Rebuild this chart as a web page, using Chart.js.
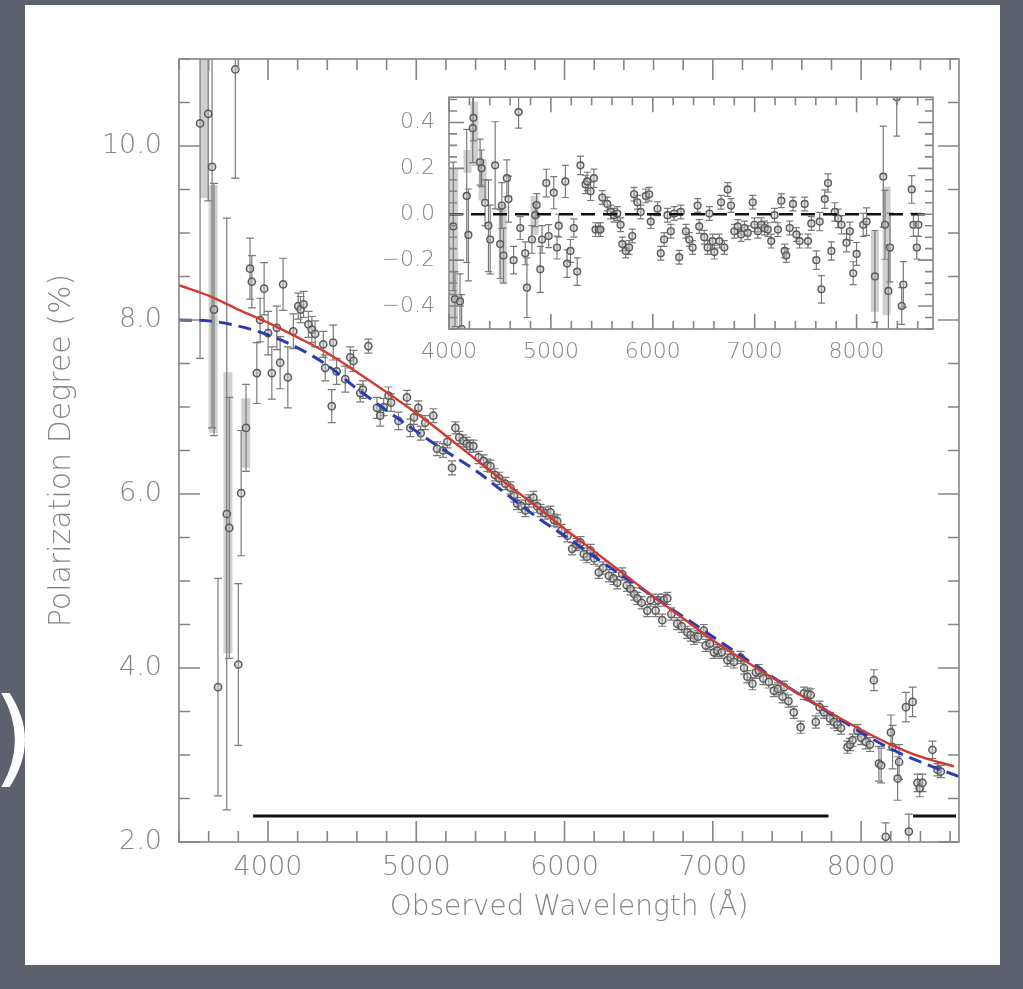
<!DOCTYPE html>
<html lang="en">
<head>
<meta charset="UTF-8">
<script src="https://cdn.jsdelivr.net/npm/chart.js"></script>
<style>
  body { margin: 0; background: #5c616d; width: 1023px; height: 989px; overflow: hidden; position: relative; }
  .panel { position: absolute; left: 25px; top: 5px; width: 975px; height: 960px; background: #fff; }
  .paren { position: absolute; left: -7px; top: 676px; font: 105px 'DejaVu Sans', sans-serif; color: #fff; line-height: normal; }
  #main { position: absolute; left: 0; top: 0; }
  #inset { position: absolute; left: 370px; top: 70px; }
</style>
<title>polarization degree</title>
</head>
<body>
<div class="paren">)</div>
<div class="panel"></div>
<canvas id="main" width="1023" height="989"></canvas>
<canvas id="inset" width="600" height="310"></canvas>
<script>
// observed polarization (main panel): wavelength [A], P [%], 1-sigma error
let wl = [3542, 3597, 3623, 3636, 3663, 3722, 3739, 3780, 3800, 3819, 3852, 3879, 3891, 3925, 3947, 3974,
  4001, 4026, 4060, 4082, 4102, 4134, 4171, 4204, 4220, 4240, 4273, 4296, 4318, 4373, 4386, 4430, 4440, 4463,
  4521, 4555, 4577, 4622, 4640, 4677, 4735, 4757, 4780, 4813, 4830, 4880, 4937, 4960, 4985,
  5014, 5030, 5060, 5115, 5140, 5180, 5210, 5241, 5264, 5290, 5318, 5340, 5360, 5385, 5420, 5453, 5480,
  5500, 5530, 5560, 5600, 5635, 5660, 5680, 5710, 5736, 5760, 5790, 5815, 5838, 5870, 5905, 5930, 5950, 5980,
  6020, 6051, 6080, 6108, 6130, 6150, 6175, 6200, 6231, 6260, 6299, 6330, 6355, 6389, 6420, 6445, 6470, 6490,
  6520, 6558, 6580, 6614, 6630, 6659, 6668, 6693, 6720, 6760, 6790, 6828, 6850, 6872, 6900, 6939, 6952, 6980,
  7007, 7030, 7060, 7098, 7120, 7142, 7188, 7210, 7233, 7267, 7290, 7310, 7340, 7377, 7411, 7440, 7470, 7480,
  7510, 7546, 7592, 7614, 7640, 7660, 7694, 7720, 7750, 7790, 7817, 7840, 7864, 7908, 7925, 7942, 7975,
  8000, 8032, 8060, 8086, 8120, 8135, 8166, 8201, 8212, 8246, 8256, 8302, 8322, 8347, 8380, 8395, 8414,
  8481, 8515, 8538];
let pol = [10.26, 10.37, 9.76, 8.12, 3.78, 5.77, 5.61, 10.88, 4.04, 6.01, 6.76, 8.59, 8.44, 7.39, 8.00, 8.36,
  7.85, 7.39, 7.91, 7.51, 8.41, 7.34, 7.87, 8.16, 8.12, 8.18, 7.95, 7.89, 7.84, 7.72, 7.45, 7.01, 7.74, 7.41,
  7.32, 7.57, 7.53, 7.16, 7.20, 7.70, 6.99, 6.90, 7.00, 7.13, 7.05, 6.84, 7.11, 6.76, 6.88,
  6.99, 6.70, 6.82, 6.90, 6.52, 6.50, 6.60, 6.30, 6.76, 6.65, 6.61, 6.58, 6.55, 6.55, 6.42, 6.38, 6.33,
  6.32, 6.22, 6.18, 6.12, 6.07, 5.98, 5.89, 5.86, 5.81, 5.92, 5.96, 5.86, 5.81, 5.78, 5.79, 5.70, 5.69, 5.58,
  5.52, 5.37, 5.42, 5.44, 5.31, 5.28, 5.35, 5.26, 5.10, 5.15, 5.06, 5.03, 4.98, 5.08, 4.95, 4.91, 4.85, 4.80,
  4.75, 4.66, 4.78, 4.66, 4.78, 4.55, 4.78, 4.80, 4.62, 4.51, 4.48, 4.41, 4.38, 4.34, 4.36, 4.43, 4.26, 4.28,
  4.18, 4.20, 4.18, 4.09, 4.12, 4.07, 4.12, 4.00, 3.90, 3.82, 3.95, 3.97, 3.88, 3.84, 3.74, 3.76, 3.67, 3.78,
  3.62, 3.49, 3.32, 3.71, 3.70, 3.69, 3.38, 3.55, 3.49, 3.42, 3.38, 3.35, 3.31, 3.09, 3.12, 3.17, 3.28,
  3.20, 3.15, 3.12, 3.86, 2.90, 2.88, 2.06, 3.26, 3.09, 2.73, 2.92, 3.55, 2.12, 3.61, 2.68, 2.62, 2.68,
  3.06, 2.83, 2.81];
let polErr = [2.7, 1.0, 3.0, 1.45, 1.25, 3.4, 1.5, 1.25, 0.93, 0.72, 0.5, 0.35, 0.3, 0.35, 0.25, 0.3,
  0.25, 0.3, 0.25, 0.3, 0.3, 0.35, 0.2, 0.15, 0.15, 0.15, 0.15, 0.15, 0.15, 0.15, 0.15, 0.19, 0.2, 0.15,
  0.15, 0.12, 0.12, 0.1, 0.1, 0.08, 0.12, 0.12, 0.1, 0.1, 0.1, 0.1, 0.08, 0.1, 0.08,
  0.08, 0.08, 0.08, 0.08, 0.08, 0.08, 0.07, 0.08, 0.07, 0.07, 0.07, 0.07, 0.07, 0.07, 0.07, 0.07, 0.07,
  0.07, 0.07, 0.07, 0.07, 0.07, 0.07, 0.07, 0.07, 0.07, 0.07, 0.07, 0.07, 0.07, 0.07, 0.07, 0.07, 0.07, 0.07,
  0.07, 0.07, 0.07, 0.07, 0.07, 0.07, 0.07, 0.07, 0.07, 0.07, 0.07, 0.07, 0.07, 0.07, 0.07, 0.07, 0.07, 0.07,
  0.07, 0.07, 0.07, 0.07, 0.07, 0.07, 0.07, 0.07, 0.07, 0.07, 0.07, 0.07, 0.07, 0.07, 0.07, 0.07, 0.07, 0.07,
  0.07, 0.07, 0.07, 0.07, 0.07, 0.07, 0.07, 0.07, 0.07, 0.07, 0.07, 0.07, 0.07, 0.07, 0.07, 0.07, 0.07, 0.07,
  0.07, 0.07, 0.07, 0.07, 0.07, 0.07, 0.07, 0.07, 0.07, 0.07, 0.07, 0.07, 0.07, 0.07, 0.07, 0.07, 0.07,
  0.08, 0.08, 0.08, 0.12, 0.2, 0.2, 0.16, 0.2, 0.25, 0.25, 0.2, 0.17, 0.2, 0.17, 0.1, 0.1, 0.1,
  0.1, 0.07, 0.07];

// wide grey bars (systematic range) on the blue end
let sysWl = [3570, 3630, 3730, 3850];
let sysLo = [9.4, 6.7, 4.17, 6.3];
let sysHi = [11.3, 9.55, 7.4, 7.1];

// model curves read at fixed wavelengths
let modelWl = [3400, 3600, 3800, 4000, 4200, 4400, 4600, 4800, 5000, 5200, 5400, 5600, 5800, 6000, 6200,
  6400, 6600, 6800, 7000, 7200, 7400, 7600, 7800, 8000, 8200, 8400, 8626];
let redModel = [8.40, 8.28, 8.12, 7.97, 7.80, 7.62, 7.40, 7.17, 6.93, 6.67, 6.40, 6.13, 5.87, 5.60, 5.34,
  5.08, 4.82, 4.57, 4.32, 4.10, 3.89, 3.68, 3.48, 3.29, 3.12, 2.98, 2.87];
let blueWl = [3400, 3600, 3800, 4000, 4200, 4400, 4600, 4800, 5000, 5200, 5400, 5600, 5800, 6000, 6200,
  6400, 6600, 6800, 7000, 7200, 7400, 7600, 7800, 8000, 8200, 8400, 8680];
let blueModel = [8.00, 7.99, 7.93, 7.83, 7.68, 7.48, 7.21, 6.96, 6.72, 6.49, 6.27, 6.01, 5.75, 5.52, 5.28,
  5.05, 4.82, 4.59, 4.36, 4.13, 3.90, 3.68, 3.47, 3.26, 3.07, 2.92, 2.74];

// wavelength ranges used in the fit, drawn at P = 2.3
let fitRanges = [[3900, 7780], [8350, 8640]];
let fitLevel = 2.3;

let xTicks = [4000, 5000, 6000, 7000, 8000];
let yTicks = [2, 4, 6, 8, 10];

// residuals (inset)
let resWl = [4042, 4059, 4108, 4124, 4174, 4190, 4233, 4240, 4305, 4320, 4354, 4387, 4404, 4453, 4502, 4519,
  4535, 4568, 4584, 4634, 4683, 4699, 4748, 4765, 4814, 4847, 4860, 4896, 4913, 4955, 4978, 5028, 5060, 5077,
  5142, 5159, 5192, 5225, 5258, 5290, 5340, 5356, 5390, 5422, 5438, 5470, 5487, 5504, 5553, 5586, 5619, 5652,
  5684, 5701, 5734, 5767, 5799, 5816, 5849, 5881, 5931, 5964, 5980, 6046, 6078, 6111, 6144, 6177, 6210, 6259,
  6275, 6325, 6358, 6391, 6440, 6456, 6505, 6538, 6555, 6587, 6604, 6653, 6670, 6702, 6735, 6768, 6801, 6834,
  6867, 6900, 6932, 6981, 6998, 7031, 7064, 7097, 7129, 7162, 7195, 7228, 7261, 7294, 7310, 7343, 7376, 7409,
  7441, 7491, 7523, 7556, 7605, 7638, 7655, 7688, 7720, 7753, 7786, 7819, 7852, 7901, 7934, 7967, 8000, 8065,
  8098, 8180, 8262, 8279, 8312, 8328, 8394, 8443, 8459, 8541, 8558, 8591, 8607];
let res = [-0.053, -0.37, -0.38, -0.50, 0.08, -0.09, 0.375, 0.42, 0.227, 0.20, 0.05, -0.05, -0.11, 0.213, -0.13, 0.038,
  -0.18, 0.157, 0.066, -0.20, 0.445, -0.06, -0.17, -0.32, -0.11, -0.004, 0.04, -0.24, -0.11, 0.136, -0.095, 0.094, -0.145, -0.05,
  0.143, -0.215, -0.16, -0.06, -0.25, 0.213, 0.13, 0.143, 0.10, 0.157, -0.067, -0.067, -0.067, 0.073, 0.045, 0.01, -0.004, 0.003,
  -0.046, -0.13, -0.16, -0.145, -0.095, 0.087, 0.052, 0.01, 0.08, 0.087, -0.032, 0.024, -0.17, -0.11, -0.004, -0.074, 0.003, -0.187,
  0.01, -0.074, -0.11, -0.145, 0.038, -0.053, -0.10, -0.145, 0.003, -0.117, -0.165, -0.117, 0.052, -0.145, 0.108, 0.038, -0.074, -0.053,
  -0.088, -0.06, -0.081, 0.052, -0.046, -0.074, -0.046, -0.06, -0.067, -0.117, -0.004, -0.067, 0.059, -0.16, -0.18, -0.06, 0.045, -0.088,
  -0.117, 0.045, -0.117, -0.04, -0.20, -0.032, -0.327, 0.066, 0.136, -0.16, 0.01, -0.018, -0.046, -0.124, -0.074, -0.257, -0.173, -0.046,
  -0.032, -0.271, 0.164, -0.046, -0.334, -0.145, 0.51, -0.40, -0.306, 0.108, -0.046, -0.145, -0.046];
let resErr = [0.28, 0.12, 0.12, 0.15, 0.29, 0.2, 0.15, 0.1, 0.1, 0.08, 0.1, 0.2, 0.15, 0.19, 0.15, 0.1,
  0.12, 0.08, 0.1, 0.06, 0.07, 0.05, 0.05, 0.13, 0.06, 0.05, 0.05, 0.1, 0.06, 0.06, 0.05, 0.07, 0.05, 0.05,
  0.07, 0.06, 0.05, 0.04, 0.06, 0.04, 0.04, 0.04, 0.04, 0.04, 0.03, 0.03, 0.03, 0.03, 0.03, 0.03, 0.03, 0.03,
  0.03, 0.03, 0.03, 0.03, 0.03, 0.03, 0.03, 0.03, 0.03, 0.03, 0.03, 0.03, 0.03, 0.03, 0.03, 0.03, 0.03, 0.03,
  0.03, 0.03, 0.03, 0.03, 0.03, 0.03, 0.03, 0.03, 0.03, 0.03, 0.03, 0.03, 0.03, 0.03, 0.03, 0.03, 0.03, 0.03,
  0.03, 0.03, 0.03, 0.03, 0.03, 0.03, 0.03, 0.03, 0.03, 0.03, 0.03, 0.03, 0.03, 0.03, 0.03, 0.03, 0.03, 0.03,
  0.03, 0.03, 0.03, 0.03, 0.04, 0.04, 0.06, 0.04, 0.04, 0.04, 0.04, 0.04, 0.04, 0.04, 0.04, 0.05, 0.05, 0.05,
  0.06, 0.2, 0.22, 0.15, 0.2, 0.15, 0.17, 0.08, 0.1, 0.06, 0.05, 0.05, 0.05];
let resSysWl = [4050, 4182, 4248, 4330, 4527, 4840, 8180, 8295];
let resSysLo = [-0.55, 0.18, 0.21, 0.06, -0.30, -0.09, -0.425, -0.44];
let resSysHi = [0.20, 0.28, 0.49, 0.24, 0.045, 0.08, -0.075, 0.12];

let resXTicks = [4000, 5000, 6000, 7000, 8000];
let resYTicks = [-0.4, -0.2, 0, 0.2, 0.4];

let labelFont = "'DejaVu Sans', sans-serif";
let textGray = '#858585';

function pts(xs, ys) { return xs.map((v, i) => ({x: v, y: ys[i]})); }
function fixedTicks(vals) { return s => { s.ticks = vals.map(v => ({value: v})); }; }

// error bars and wide systematic bars, drawn under the symbols
const errorBars = {
  id: 'errorBars',
  beforeDatasetsDraw(chart, args, o) {
    const {ctx, chartArea: a, scales: {x, y}} = chart;
    ctx.save();
    ctx.beginPath();
    ctx.rect(a.left, a.top, a.width, a.height);
    ctx.clip();
    ctx.fillStyle = '#cfcfcf';
    (o.sysWl || []).forEach((w, i) => {
      let px = x.getPixelForValue(w);
      let top = y.getPixelForValue(o.sysHi[i]), bot = y.getPixelForValue(o.sysLo[i]);
      ctx.fillRect(px - o.sysWidth / 2, top, o.sysWidth, bot - top);
    });
    ctx.strokeStyle = '#7a7a7a';
    ctx.lineWidth = 1.2;
    chart.data.datasets.forEach(ds => {
      if (!ds.errors) return;
      ds.data.forEach((p, i) => {
        let e = ds.errors[i];
        let px = x.getPixelForValue(p.x);
        let y1 = y.getPixelForValue(p.y + e), y2 = y.getPixelForValue(p.y - e);
        ctx.beginPath();
        ctx.moveTo(px, y1); ctx.lineTo(px, y2);
        ctx.moveTo(px - o.cap, y1); ctx.lineTo(px + o.cap, y1);
        ctx.moveTo(px - o.cap, y2); ctx.lineTo(px + o.cap, y2);
        ctx.stroke();
      });
    });
    ctx.restore();
  }
};

// box frame with inward ticks on all four sides
const frameTicks = {
  id: 'frameTicks',
  afterDraw(chart, args, o) {
    const {ctx, chartArea: a, scales: {x, y}} = chart;
    ctx.save();
    ctx.strokeStyle = '#858585';
    ctx.lineWidth = 1.6;
    ctx.strokeRect(a.left, a.top, a.width, a.height);
    ctx.beginPath();
    let n = Math.ceil((x.min - o.xStart) / o.xMinor);
    for (let v = o.xStart + n * o.xMinor; v <= x.max; v += o.xMinor) {
      let px = x.getPixelForValue(v);
      let len = Math.abs(v / o.xMajor - Math.round(v / o.xMajor)) < 1e-6 ? o.major : o.minor;
      ctx.moveTo(px, a.bottom); ctx.lineTo(px, a.bottom - len);
      ctx.moveTo(px, a.top); ctx.lineTo(px, a.top + len);
    }
    let k = Math.ceil((y.min - o.yStart) / o.yMinor - 1e-6);
    for (let j = k; o.yStart + j * o.yMinor <= y.max + 1e-6; j++) {
      let v = o.yStart + j * o.yMinor;
      let py = y.getPixelForValue(v);
      let len = Math.abs(v / o.yMajor - Math.round(v / o.yMajor)) < 1e-6 ? o.major : o.minor;
      ctx.moveTo(a.left, py); ctx.lineTo(a.left + len, py);
      ctx.moveTo(a.right, py); ctx.lineTo(a.right - len, py);
    }
    ctx.stroke();
    ctx.restore();
  }
};

let mainDatasets = [
  { type: 'line', data: pts(modelWl, redModel), borderColor: '#d23a32', borderWidth: 2.4,
    pointRadius: 0, cubicInterpolationMode: 'monotone', order: 0 },
  { type: 'line', data: pts(blueWl, blueModel), borderColor: '#2c3cb0', borderWidth: 3,
    borderDash: [13, 7], pointRadius: 0, cubicInterpolationMode: 'monotone', order: 1 },
  { type: 'scatter', data: pts(wl, pol), errors: polErr, pointRadius: 3.6, pointBorderWidth: 1.5,
    pointBorderColor: '#5a5a5a', pointBackgroundColor: 'rgba(190,190,190,0.5)', order: 3 }
];
fitRanges.forEach(r => {
  mainDatasets.push({ type: 'line', data: [{x: r[0], y: fitLevel}, {x: r[1], y: fitLevel}],
    borderColor: '#111', borderWidth: 3, pointRadius: 0, order: 2 });
});

new Chart(document.getElementById('main'), {
  type: 'scatter',
  data: { datasets: mainDatasets },
  options: {
    responsive: false,
    animation: false,
    layout: { padding: { left: 30, right: 64, top: 59, bottom: 40 } },
    plugins: {
      legend: { display: false },
      tooltip: { enabled: false },
      errorBars: { sysWl: sysWl, sysLo: sysLo, sysHi: sysHi, sysWidth: 9, cap: 4 },
      frameTicks: { xStart: 3400, xMinor: 200, xMajor: 1000, yStart: 2, yMinor: 0.5, yMajor: 2, major: 21, minor: 11 }
    },
    scales: {
      x: {
        type: 'linear', min: 3400, max: 8660,
        grid: { display: false, drawTicks: false }, border: { display: false },
        afterBuildTicks: fixedTicks(xTicks),
        ticks: { padding: 10, color: textGray, font: { family: labelFont, size: 27, weight: 200 },
                 callback: v => String(v) },
        title: { display: true, text: 'Observed Wavelength (Å)', color: textGray,
                 font: { family: labelFont, size: 28, weight: 200 }, padding: { bottom: 24 } },
        afterFit: s => { s.height = 107; }
      },
      y: {
        min: 2, max: 11,
        grid: { display: false, drawTicks: false }, border: { display: false },
        afterBuildTicks: fixedTicks(yTicks),
        ticks: { padding: 17, color: textGray, font: { family: labelFont, size: 27, weight: 200 },
                 callback: v => v.toFixed(1) },
        title: { display: true, text: 'Polarization Degree (%)', color: textGray,
                 font: { family: labelFont, size: 30, weight: 200 }, padding: { top: 14 } },
        afterFit: s => { s.width = 149; }
      }
    }
  },
  plugins: [errorBars, frameTicks]
});

// inset: residuals from the fit
new Chart(document.getElementById('inset'), {
  type: 'scatter',
  data: {
    datasets: [
      { type: 'line', data: [{x: 4000, y: 0}, {x: 8750, y: 0}], borderColor: '#111', borderWidth: 2.4,
        borderDash: [14, 8], pointRadius: 0, order: 0 },
      { type: 'scatter', data: pts(resWl, res), errors: resErr, pointRadius: 3.4, pointBorderWidth: 1.4,
        pointBorderColor: '#5a5a5a', pointBackgroundColor: 'rgba(190,190,190,0.5)', order: 1 }
    ]
  },
  options: {
    responsive: false,
    animation: false,
    layout: { padding: { left: 0, right: 37, top: 19, bottom: 0 } },
    plugins: {
      legend: { display: false },
      tooltip: { enabled: false },
      errorBars: { sysWl: resSysWl, sysLo: resSysLo, sysHi: resSysHi, sysWidth: 8, cap: 3.5 },
      frameTicks: { xStart: 4000, xMinor: 200, xMajor: 1000, yStart: -0.5, yMinor: 0.05, yMajor: 0.2, major: 15, minor: 8 }
    },
    scales: {
      x: {
        type: 'linear', min: 4000, max: 8750,
        grid: { display: false, drawTicks: false }, border: { display: false },
        afterBuildTicks: fixedTicks(resXTicks),
        ticks: { padding: 10, color: textGray, font: { family: labelFont, size: 22, weight: 200 },
                 callback: v => String(v) },
        afterFit: s => { s.height = 51; }
      },
      y: {
        min: -0.5, max: 0.51,
        grid: { display: false, drawTicks: false }, border: { display: false },
        afterBuildTicks: fixedTicks(resYTicks),
        ticks: { padding: 14, color: textGray, font: { family: labelFont, size: 22, weight: 200 },
                 callback: v => v.toFixed(1).replace('-', '\u2212') },
        afterFit: s => { s.width = 79; }
      }
    }
  },
  plugins: [errorBars, frameTicks]
});
</script>
</body>
</html>
